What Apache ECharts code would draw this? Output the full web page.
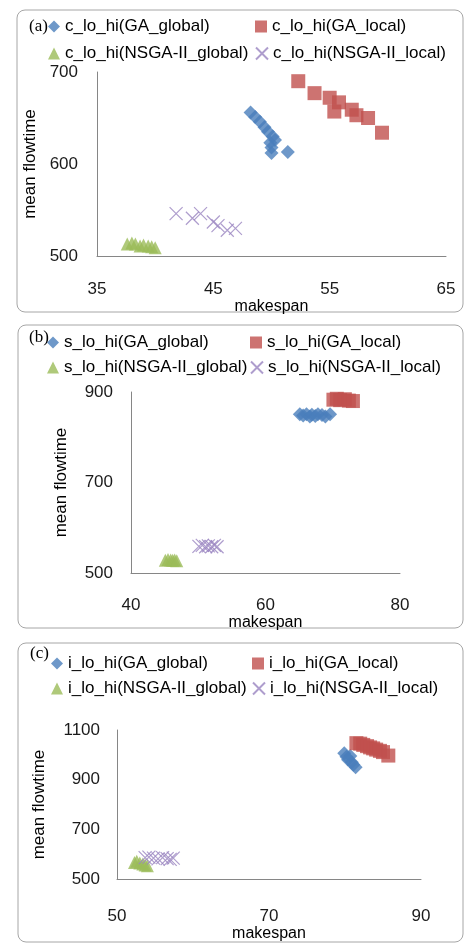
<!DOCTYPE html>
<html>
<head>
<meta charset="utf-8">
<script src="https://cdn.jsdelivr.net/npm/echarts@6/dist/echarts.min.js"></script>
<style>
    html, body { margin: 0; padding: 0; background: #fff; }
    #chart { width: 464px; height: 943px; }
</style>
</head>
<body>
<div id="chart"></div>
<script>
// panel (a): c_lo_hi
const aGaGlobal = [[48.2, 656], [48.6, 651], [49.0, 646], [49.4, 640], [49.7, 635], [50.1, 630], [50.3, 626], [49.9, 623], [50.0, 618], [50.0, 612], [51.4, 613]];
const aGaLocal = [[52.3, 690], [53.7, 677], [55.0, 672], [55.8, 667], [55.4, 657], [56.9, 659], [57.3, 653], [58.3, 650], [59.5, 634]];
const aNsgaGlobal = [[37.6, 513], [38.0, 514], [38.3, 513], [38.7, 511], [39.0, 512], [39.4, 511], [39.7, 510], [40.0, 509]];
const aNsgaLocal = [[41.8, 546], [43.2, 541], [43.9, 546], [45.0, 537], [45.4, 533], [46.2, 528], [46.9, 530]];

// panel (b): s_lo_hi
const bGaGlobal = [[65.1, 851], [65.6, 848], [66.1, 851], [66.6, 846], [66.9, 850], [67.4, 847], [67.8, 851], [68.4, 849], [68.9, 846], [69.6, 851]];
const bGaLocal = [[70.1, 883], [70.6, 885], [71.1, 882], [71.8, 884], [72.4, 881], [73.0, 880]];
const bNsgaGlobal = [[45.1, 528], [45.5, 530], [45.9, 529], [46.2, 528], [46.5, 529], [46.8, 527]];
const bNsgaLocal = [[50.1, 559], [50.6, 561], [51.1, 558], [51.5, 560], [52.0, 558], [52.4, 561], [52.8, 558]];

// panel (c): i_lo_hi
const cGaGlobal = [[79.9, 1006], [80.2, 992], [80.7, 995], [80.4, 980], [80.9, 970], [81.1, 960], [81.4, 950]];
const cGaLocal = [[81.5, 1047], [82.0, 1045], [82.4, 1040], [82.9, 1035], [83.3, 1030], [83.7, 1026], [84.1, 1021], [84.6, 1016], [85.0, 1011], [85.7, 997]];
const cNsgaGlobal = [[52.3, 566], [52.6, 571], [53.0, 564], [53.4, 560], [53.7, 556], [54.0, 553]];
const cNsgaLocal = [[53.7, 586], [54.2, 588], [54.8, 584], [55.4, 581], [56.0, 586], [56.6, 582], [57.0, 579], [57.4, 584]];

const prefixes = ['c_lo_hi', 's_lo_hi', 'i_lo_hi'];
const methods = ['GA_global', 'GA_local', 'NSGA-II_global', 'NSGA-II_local'];
const panelLabels = ['(a)', '(b)', '(c)'];

const xRanges = [[35, 65, 10], [40, 80, 20], [50, 90, 20]];
const yRanges = [[500, 700, 100], [500, 900, 200], [500, 1100, 200]];

const panelData = [
    [aGaGlobal, aGaLocal, aNsgaGlobal, aNsgaLocal],
    [bGaGlobal, bGaLocal, bNsgaGlobal, bNsgaLocal],
    [cGaGlobal, cGaLocal, cNsgaGlobal, cNsgaLocal]
];

const SANS = '"Liberation Sans", Arial, sans-serif';
const SERIF = '"Liberation Serif", "Times New Roman", serif';
const CROSS = 'path://M0,0L12,12M0,12L12,0';

const markers = [
    { symbol: 'diamond', size: 14, itemStyle: { color: '#4a7ebb' } },
    { symbol: 'rect', size: 14, itemStyle: { color: '#c0504d' } },
    { symbol: 'triangle', size: 13, itemStyle: { color: '#9bbb59' } },
    { symbol: CROSS, size: 13, itemStyle: { color: 'rgba(0,0,0,0)', borderColor: '#9a84c0', borderWidth: 1.2 } }
];

// layout per panel
const grids = [
    { left: 97, top: 72, width: 349, height: 184 },
    { left: 131, top: 392, width: 269, height: 181 },
    { left: 117, top: 730, width: 304, height: 149 }
];
const xLabelMargin = [25, 24, 29];
const xNameGap = [35, 34, 40];
const yLabelMargin = [19, 18, 17];
const yNameGap = [56, 61, 69];
const legendCols = [[48, 255], [47, 250], [51, 252]];
const legendRows = [[18, 45], [334, 359], [655, 680]];
const labelPos = [[29, 18], [29, 329], [30, 645]];
const frames = [[17, 10, 446, 302], [18, 325, 445, 303], [18, 643, 445, 299]];

const chart = echarts.init(document.getElementById('chart'), null, { renderer: 'canvas' });

const series = [];
const legends = [];
panelData.forEach((sets, p) => {
    sets.forEach((data, m) => {
        const name = prefixes[p] + '(' + methods[m] + ')';
        series.push({
            name,
            type: 'scatter',
            xAxisIndex: p,
            yAxisIndex: p,
            symbol: markers[m].symbol,
            symbolSize: markers[m].size,
            itemStyle: markers[m].itemStyle,
            emphasis: { disabled: true },
            data
        });
        legends.push({
            data: [name],
            left: legendCols[p][m % 2],
            top: legendRows[p][m < 2 ? 0 : 1],
            padding: 0,
            itemWidth: 12,
            itemHeight: 12,
            selectedMode: false,
            textStyle: { fontFamily: SANS, fontSize: 17, color: '#000' }
        });
    });
});

const axisBase = {
    type: 'value',
    axisLine: { show: true, onZero: false, lineStyle: { color: '#868686', width: 1 } },
    axisTick: { show: false },
    splitLine: { show: false },
    nameLocation: 'middle'
};

chart.setOption({
    animation: false,
    backgroundColor: '#fff',
    title: panelLabels.map((t, p) => ({
        text: t,
        left: labelPos[p][0],
        top: labelPos[p][1],
        padding: 0,
        textStyle: { fontFamily: SERIF, fontSize: 17, fontWeight: 'normal', color: '#000' }
    })),
    legend: legends,
    grid: grids,
    xAxis: xRanges.map((r, p) => ({
        ...axisBase,
        gridIndex: p,
        min: r[0],
        max: r[1],
        interval: r[2],
        name: 'makespan',
        nameGap: xNameGap[p],
        nameTextStyle: { fontFamily: SANS, fontSize: 16, color: '#000' },
        axisLabel: { fontFamily: SANS, fontSize: 17, color: '#1a1a1a', margin: xLabelMargin[p] }
    })),
    yAxis: yRanges.map((r, p) => ({
        ...axisBase,
        gridIndex: p,
        min: r[0],
        max: r[1],
        interval: r[2],
        name: 'mean flowtime',
        nameRotate: 90,
        nameGap: yNameGap[p],
        nameTextStyle: { fontFamily: SANS, fontSize: 17, color: '#000' },
        axisLabel: {
            fontFamily: SANS, fontSize: 17, color: '#1a1a1a', margin: yLabelMargin[p],
            formatter: (v) => String(v)
        }
    })),
    graphic: frames.map((f) => ({
        type: 'rect',
        z: -10,
        silent: true,
        shape: { x: f[0], y: f[1], width: f[2], height: f[3], r: 8 },
        style: { fill: '#fff', stroke: '#a6a6a6', lineWidth: 1 }
    })),
    series
});
</script>
</body>
</html>
